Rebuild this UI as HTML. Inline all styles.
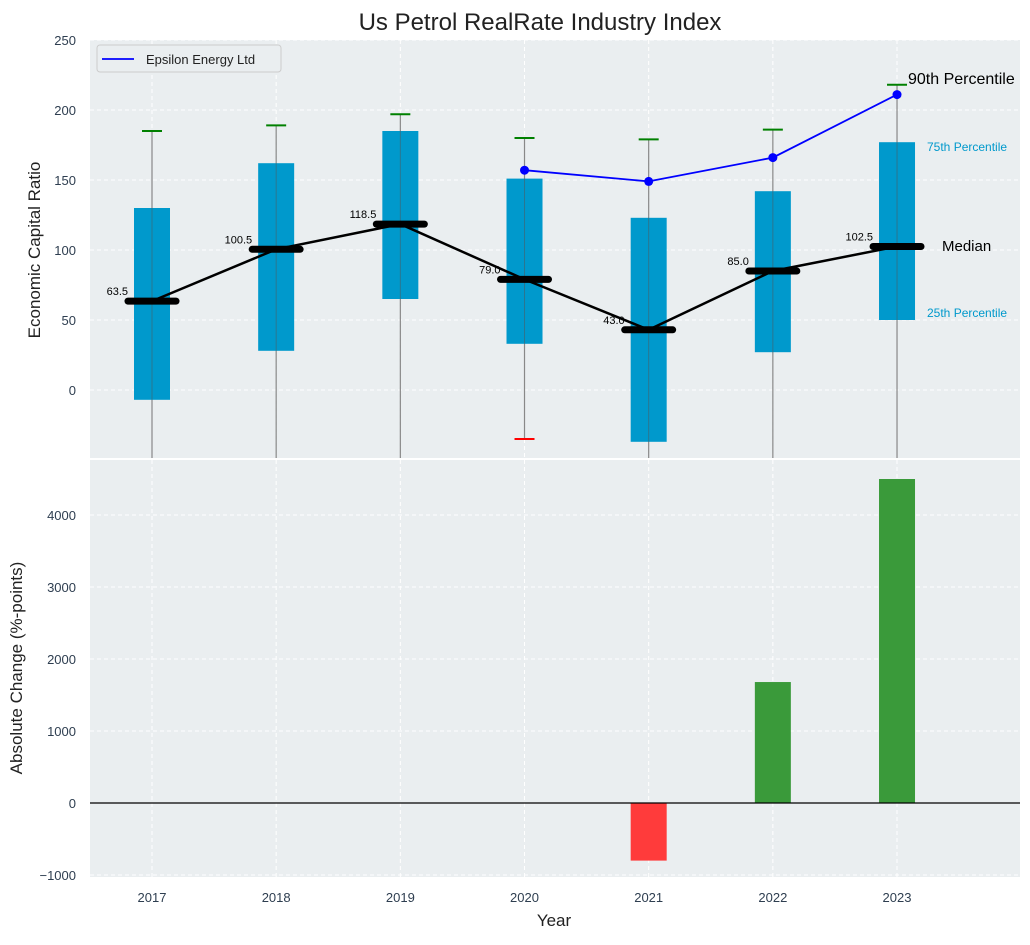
<!DOCTYPE html>
<html><head><meta charset="utf-8"><style>
body{margin:0;background:#fff;font-family:"Liberation Sans",sans-serif}
</style></head><body>
<svg id="c" width="1030" height="940" xmlns="http://www.w3.org/2000/svg" font-family="Liberation Sans, sans-serif"></svg>
<script>
const years=[2017,2018,2019,2020,2021,2022,2023];
const q1=[-7,28,65,33,-37,27,50];
const q3=[130,162,185,151,123,142,177];
const wTop=[185,189,197,180,179,186,218];
const wLow=[-60,-60,-60,-35,-60,-60,-60];
const medians=[63.5,100.5,118.5,79.0,43.0,85.0,102.5];
const epsYears=[2020,2021,2022,2023];
const epsVals=[157,149,166,211];
const changes=[0,0,0,0,-800,1680,4500];
const topTicks=[0,50,100,150,200,250];
const botTicks=[-1000,0,1000,2000,3000,4000];

const svg=document.getElementById('c');const NS='http://www.w3.org/2000/svg';
function el(t,a,p){const e=document.createElementNS(NS,t);for(const k in a)e.setAttribute(k,a[k]);(p||svg).appendChild(e);return e;}
const L=90,R=1020,T1=40,B1=458,T2=460,B2=877;
const x=v=>152+(v-2017)*124.17;
const y1=v=>390-v*1.4;
const y2=v=>803-v*0.072;
el('rect',{x:L,y:T1,width:R-L,height:B1-T1,fill:'#eaeef0',});
el('rect',{x:L,y:T2,width:R-L,height:B2-T2,fill:'#eaeef0',});
const g1=el('g',{});
years.forEach(yr=>{[ [T1,B1],[T2,B2] ].forEach(r=>{const l=el('line',{x1:x(yr),x2:x(yr),y1:r[0],y2:r[1],stroke:'#fff','stroke-dasharray':'4,3','stroke-width':1});});
 const t=el('text',{x:x(yr),y:902,'font-size':13,fill:'#2e3e50','text-anchor':'middle'});t.textContent=yr;});
topTicks.forEach(v=>{const l=el('line',{x1:L,x2:R,y1:y1(v),y2:y1(v),stroke:'#fff','stroke-dasharray':'4,3'});
 const t=el('text',{x:76,y:y1(v)+5,'font-size':13,fill:'#2e3e50','text-anchor':'end'});t.textContent=v;});
botTicks.forEach(v=>{const l=el('line',{x1:L,x2:R,y1:y2(v),y2:y2(v),stroke:'#fff','stroke-dasharray':'4,3'});
 const t=el('text',{x:76,y:y2(v)+5,'font-size':13,fill:'#2e3e50','text-anchor':'end'});t.textContent=v<0?'\u2212'+(-v):v;});
const clip=el('clipPath',{id:'cp'});el('rect',{x:L,y:T1,width:R-L,height:B1-T1},clip);
const gb=el('g',{'clip-path':'url(#cp)'});
years.forEach((yr,i)=>{const cx=x(yr);
 let l=el('line',{x1:cx,x2:cx,y1:y1(wTop[i]),y2:y1(wLow[i]),stroke:'#888','stroke-width':1.2},gb);
 let b=el('rect',{x:cx-18,y:y1(q3[i]),width:36,height:y1(q1[i])-y1(q3[i]),fill:'#0099cc'},gb);
 el('line',{x1:cx,x2:cx,y1:y1(q3[i]),y2:y1(q1[i]),stroke:'#555','stroke-width':1,opacity:0.5},gb);
 let c=el('line',{x1:cx-10,x2:cx+10,y1:y1(wTop[i]),y2:y1(wTop[i]),stroke:'green','stroke-width':2},gb);
 if(wLow[i]>-48){c=el('line',{x1:cx-10,x2:cx+10,y1:y1(wLow[i]),y2:y1(wLow[i]),stroke:'red','stroke-width':2},gb);}
});
let pts=years.map((yr,i)=>x(yr)+','+y1(medians[i])).join(' ');
let ml=el('polyline',{points:pts,fill:'none',stroke:'#000','stroke-width':2.5});
years.forEach((yr,i)=>{const cx=x(yr),cy=y1(medians[i]);
 let m=el('line',{x1:cx-24,x2:cx+24,y1:cy,y2:cy,stroke:'#000','stroke-width':7,'stroke-linecap':'round'});
 let t=el('text',{x:cx-24,y:cy-6,'font-size':11,fill:'#000','text-anchor':'end'});t.textContent=medians[i].toFixed(1);});
let ep=el('polyline',{points:epsYears.map((yr,i)=>x(yr)+','+y1(epsVals[i])).join(' '),fill:'none',stroke:'blue','stroke-width':1.8});
epsYears.forEach((yr,i)=>{let d=el('circle',{cx:x(yr),cy:y1(epsVals[i]),r:4.5,fill:'blue'});});
years.forEach((yr,i)=>{if(!changes[i])return;const v=changes[i];
 let b=el('rect',{x:x(yr)-18,y:Math.min(y2(v),y2(0)),width:36,height:Math.abs(y2(v)-y2(0)),fill:v<0?'#ff3b3b':'#3a9a3a'});});
el('line',{x1:L,x2:R,y1:y2(0),y2:y2(0),stroke:'#000','stroke-width':1.2,});
</script>
<svg width="1030" height="940" style="position:absolute;left:0;top:0" font-family="Liberation Sans, sans-serif">
<text x="540" y="30" font-size="24" text-anchor="middle" fill="#222">Us Petrol RealRate Industry Index</text>
<text x="40" y="250" font-size="17" text-anchor="middle" fill="#222" transform="rotate(-90 40 250)">Economic Capital Ratio</text>
<text x="22" y="668" font-size="17" text-anchor="middle" fill="#222" transform="rotate(-90 22 668)">Absolute Change (%-points)</text>
<text x="554" y="926" font-size="17" text-anchor="middle" fill="#222">Year</text>
<g><rect x="97" y="45" width="184" height="27" rx="3" fill="#eaeef0" stroke="#ccc"/><line x1="102" y1="59" x2="134" y2="59" stroke="blue" stroke-width="1.8"/><text x="146" y="64" font-size="13" fill="#222">Epsilon Energy Ltd</text></g>
<text x="908" y="84" font-size="16" fill="#000">90th Percentile</text>
<text x="927" y="151" font-size="12" fill="#0099cc">75th Percentile</text>
<text x="942" y="251" font-size="15" fill="#000">Median</text>
<text x="927" y="317" font-size="12" fill="#0099cc">25th Percentile</text>
</svg>
</body></html>
